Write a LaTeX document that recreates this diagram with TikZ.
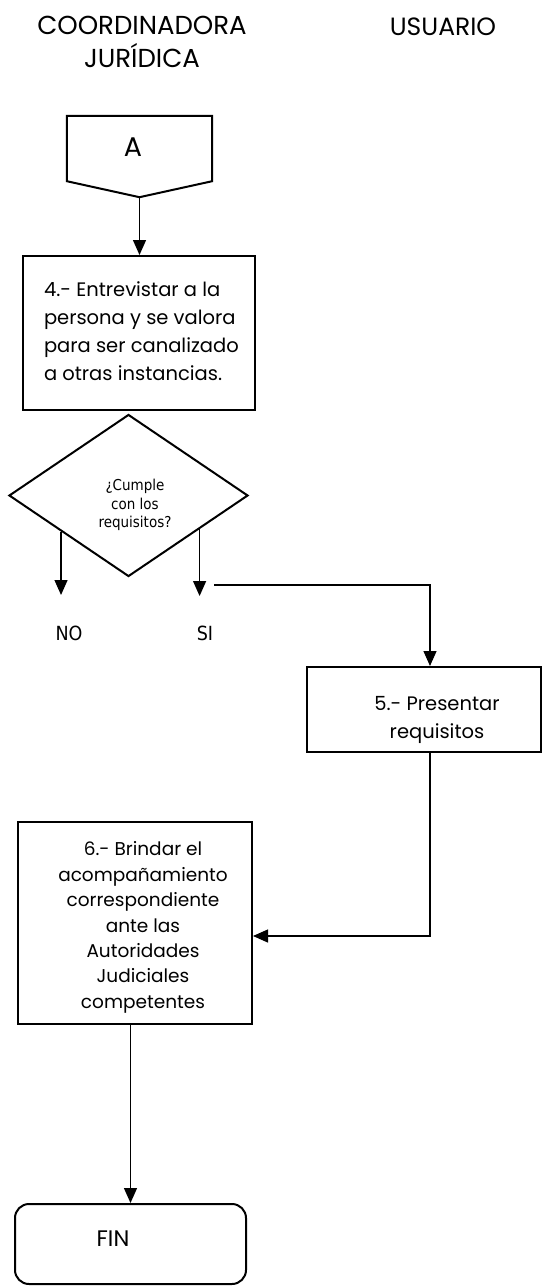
\documentclass[tikz,border=0pt]{standalone}
\usepackage{fontspec}
\setmainfont{Poppins}
\newfontfamily\verd{DejaVu Sans Condensed}
\usetikzlibrary{arrows.meta,shapes.geometric,calc}
\newcommand\offtext[5]{\vbox{\kern#2\hbox{\hspace*{#1}#5\hspace*{#3}}\kern#4}}
\newcommand\linesL[1]{\begin{tabular}{@{}l@{}}#1\end{tabular}}
\newcommand\linesC[1]{\begin{tabular}{@{}c@{}}#1\end{tabular}}
\begin{document}
\begin{tikzpicture}[x=1pt,y=-1pt,
  hdr/.style={inner sep=0pt, align=center, font=\fontsize{26}{33}\selectfont},
  boxnode/.style={draw, line width=2pt, inner sep=0pt, font=\fontsize{19.5}{27.7}\selectfont},
  edge/.style={line width=2pt, line join=miter},
  conn/.style={line width=1.3pt, -{Triangle[width=13pt,length=15pt]}},
  small/.style={inner sep=0pt, font=\verd\fontsize{15}{18.5}\selectfont},
  yesno/.style={inner sep=0pt, font=\verd\fontsize{19.5}{19.5}\selectfont}]
\useasboundingbox (0,0) rectangle (548,1287);

% headers
\node[hdr] (hcj) at (142,41.5) {COORDINADORA\\JURÍDICA};
\node[hdr, font=\fontsize{25}{33}\selectfont] (hus) at (443,27) {USUARIO};

% off-page connector A
\node[minimum width=145pt, minimum height=81pt, inner sep=0pt] (A) at (139.5,156.5) {};
\draw[edge] (A.north west) -- (A.north east) -- ([yshift=16pt]A.south east) -- (A.south) -- ([yshift=16pt]A.south west) -- cycle;
\node[inner sep=0pt, font=\fontsize{27}{27}\selectfont] (Atxt) at (133,147) {A};

% box 4
\node[boxnode, minimum width=232pt, minimum height=154pt] (b4) at (139,333)
  {\offtext{0pt}{0pt}{0pt}{0pt}{\makebox[190pt][l]{\linesL{4.- Entrevistar a la\\persona y se valora\\para ser canalizado\\a otras instancias.}}}};
\draw[conn] (A.south) -- (A.south |- b4.north);

% decision
\node[diamond, draw, line width=2pt, inner sep=0pt, minimum width=239pt, minimum height=162pt] (dq) at (128.5,495.5) {};
\node[small, align=center] (dqt) at (135,505) {¿Cumple\\con los\\requisitos?};

% NO / SI
\path ($(dq.west)!0.44!(dq.south)$) coordinate (nostart);
\path ($(dq.east)!0.41!(dq.south)$) coordinate (sistart);
\coordinate (noend) at (61,595);
\coordinate (siend) at (199,596);
\draw[conn] (nostart) -- (nostart |- noend);
\draw[conn] (sistart) -- (sistart |- siend);
\node[yesno] (no) at (69,633) {NO};
\node[yesno] (si) at (205,633) {SI};

% box 5
\node[boxnode, minimum width=234pt, minimum height=85pt] (b5) at (424,709.5)
  {\offtext{26pt}{19pt}{0pt}{0pt}{\linesC{5.- Presentar\\requisitos}}};
\coordinate (sibranch) at (214,585);
\draw[conn] (sibranch) -| ([xshift=6pt]b5.north);

% box 6
\node[boxnode, font=\fontsize{18.5}{25.4}\selectfont, minimum width=234pt, minimum height=202pt] (b6) at (135,923)
  {\offtext{16pt}{8pt}{0pt}{0pt}{\linesC{6.- Brindar el\\acompañamiento\\correspondiente\\ante las\\Autoridades\\Judiciales\\competentes}}};
\draw[conn] ([xshift=6pt]b5.south) |- ([yshift=-13pt]b6.east);

% FIN
\node[draw, line width=2pt, rounded corners=14pt, inner sep=0pt, minimum width=231pt, minimum height=80pt, font=\fontsize{22.5}{22.5}\selectfont] (fin) at (130.5,1244)
  {\offtext{0pt}{0pt}{35pt}{10pt}{FIN}};
\draw[conn] (fin.north |- b6.south) -- (fin.north);
\end{tikzpicture}
\end{document}
